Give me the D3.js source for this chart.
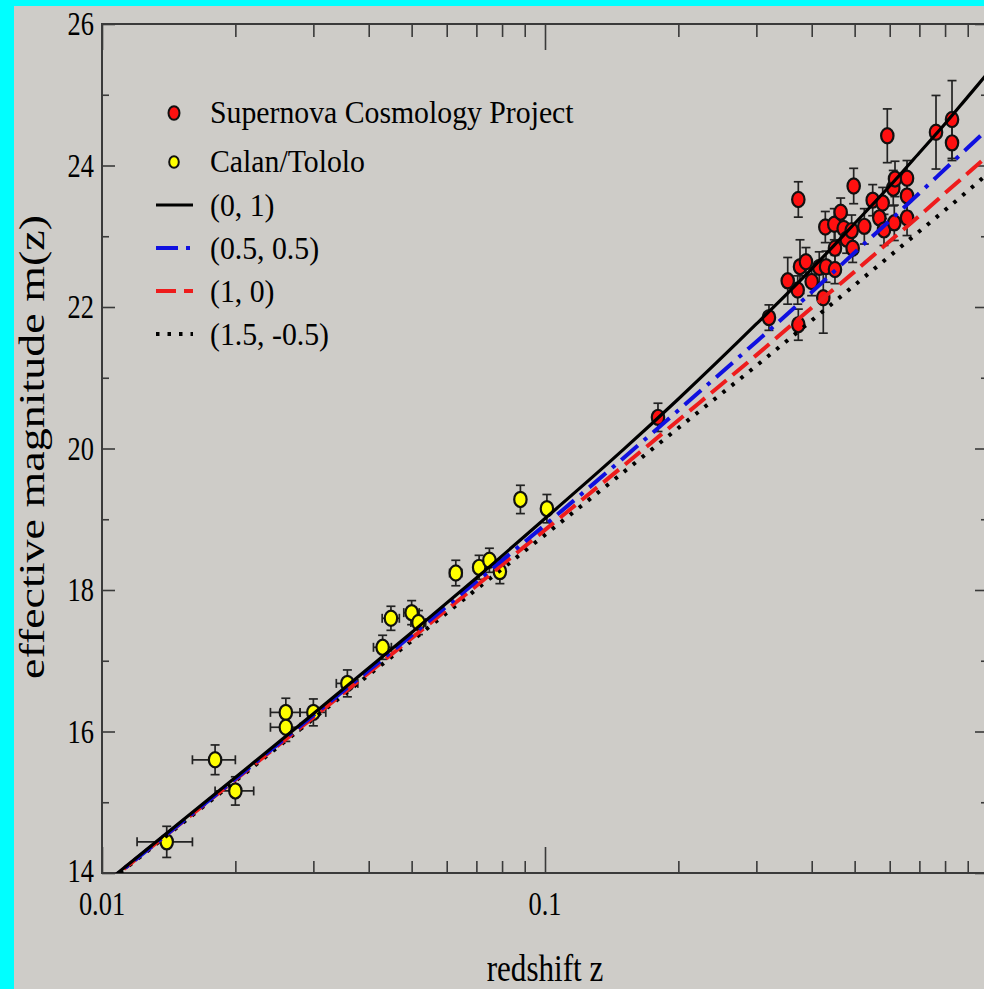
<!DOCTYPE html>
<html>
<head>
<meta charset="utf-8">
<script src="https://cdn.jsdelivr.net/npm/d3@7"></script>
<style>
  html, body { margin: 0; padding: 0; background: #00ffff; }
  svg { display: block; }
</style>
</head>
<body>
<svg id="chart" width="984" height="989"></svg>
<script>
// Calan/Tololo supernovae: redshift, effective magnitude, errors
const ctZ    = [0.0140, 0.0180, 0.0200, 0.0260, 0.0260, 0.0300, 0.0358, 0.0430, 0.0449, 0.0500, 0.0518, 0.0629, 0.0710, 0.0749, 0.0791, 0.0880, 0.1010];
const ctM    = [14.44, 15.60, 15.16, 16.27, 16.06, 16.27, 16.68, 17.19, 17.60, 17.68, 17.54, 18.24, 18.32, 18.42, 18.26, 19.28, 19.15];
const ctMErr = [0.22, 0.21, 0.20, 0.20, 0.20, 0.19, 0.19, 0.17, 0.17, 0.17, 0.17, 0.18, 0.17, 0.17, 0.17, 0.20, 0.20];
const ctZErr = [0.002, 0.002, 0.002, 0.002, 0.002, 0.002, 0.002, 0.002, 0.002, 0.002, 0.002, 0.002, 0.002, 0.002, 0.002, 0.002, 0.002];

// Supernova Cosmology Project high-redshift supernovae
const scpZ    = [0.1799, 0.3203, 0.3531, 0.3719, 0.3731, 0.3731, 0.3764, 0.3882, 0.3999, 0.4160, 0.4248, 0.4293, 0.4309, 0.4498, 0.4514, 0.4514, 0.4650, 0.4723, 0.4797, 0.4923, 0.4949, 0.4975, 0.5258, 0.5492, 0.5683, 0.5785, 0.5824, 0.5925, 0.6112, 0.6144, 0.6167, 0.6565, 0.6565, 0.6565, 0.7632, 0.8294, 0.8294];
const scpM    = [20.44, 21.85, 22.37, 22.24, 23.52, 21.75, 22.57, 22.64, 22.36, 22.56, 22.13, 23.13, 22.57, 23.17, 22.53, 22.83, 23.34, 23.11, 22.96, 23.08, 22.83, 23.71, 23.14, 23.51, 23.26, 23.47, 23.09, 24.42, 23.68, 23.19, 23.81, 23.82, 23.57, 23.26, 24.47, 24.65, 24.32];
const scpMErr = [0.20, 0.18, 0.33, 0.20, 0.25, 0.22, 0.38, 0.20, 0.20, 0.22, 0.50, 0.22, 0.22, 0.22, 0.20, 0.25, 0.20, 0.20, 0.20, 0.22, 0.20, 0.25, 0.25, 0.22, 0.22, 0.22, 0.22, 0.38, 0.25, 0.25, 0.25, 0.25, 0.22, 0.25, 0.52, 0.55, 0.25];

// Model curves m(z) for (Omega_M, Omega_Lambda)
const modelZ = [0.01, 0.02, 0.03, 0.05, 0.07, 0.1, 0.15, 0.2, 0.3, 0.4, 0.5, 0.6, 0.7, 0.8, 0.9, 1.0];
const mLambda   = [13.82, 15.35, 16.25, 17.40, 18.17, 19.01, 19.98, 20.70, 21.76, 22.54, 23.18, 23.71, 24.18, 24.59, 24.97, 25.31]; // (0, 1)
const mHalf     = [13.81, 15.33, 16.23, 17.36, 18.12, 18.92, 19.86, 20.54, 21.51, 22.21, 22.77, 23.22, 23.61, 23.95, 24.25, 24.52]; // (0.5, 0.5)
const mFlat     = [13.81, 15.32, 16.20, 17.32, 18.06, 18.85, 19.75, 20.40, 21.32, 21.99, 22.50, 22.93, 23.29, 23.61, 23.89, 24.14]; // (1, 0)
const mClosed   = [13.80, 15.30, 16.18, 17.28, 18.01, 18.78, 19.66, 20.29, 21.17, 21.81, 22.31, 22.72, 23.07, 23.37, 23.64, 23.89]; // (1.5, -0.5)

const modelNames = ["(0, 1)", "(0.5, 0.5)", "(1, 0)", "(1.5, -0.5)"];
const seriesNames = ["Supernova Cosmology Project", "Calan/Tololo"];

// Axis ticks
const xMajor = [0.01, 0.1, 1];
const xMinor = [0.02, 0.03, 0.04, 0.05, 0.06, 0.07, 0.08, 0.09, 0.2, 0.3, 0.4, 0.5, 0.6, 0.7, 0.8, 0.9];
const xLabels = ["0.01", "0.1"];
const yMajor = [14, 16, 18, 20, 22, 24, 26];
const yMinor = [15, 17, 19, 21, 23, 25];

(function draw() {
  const svg = d3.select("#chart");
  const W = 984, H = 989;
  const BG = "#ceccc8";
  const FONT = "'Liberation Serif', 'Times New Roman', serif";

  svg.append("rect").attr("x", 14).attr("y", 6).attr("width", W - 14).attr("height", H - 6).attr("fill", BG);

  const pL = 102, pR = 988, pT = 24, pB = 873;
  const x = d3.scaleLog().domain([0.01, 1]).range([pL, pR]);
  const y = d3.scaleLinear().domain([14, 26]).range([pB, pT]);

  svg.append("clipPath").attr("id", "plotClip")
    .append("rect").attr("x", pL).attr("y", pT).attr("width", pR - pL).attr("height", pB - pT);

  // text with a horizontal condensation factor sx (applied along the reading direction)
  function text(parent, px, py, str, size, anchor, sx, rotate) {
    const g = parent.append("g")
      .attr("transform", rotate
        ? `translate(${px},${py}) rotate(-90) scale(1,${sx})`
        : `translate(${px},${py}) scale(${sx},1)`);
    return g.append("text")
      .attr("font-family", FONT).attr("font-size", size)
      .attr("text-anchor", anchor).attr("fill", "#000")
      .text(str);
  }

  // axes with inward ticks
  const axisColor = "#3a3a3a";
  function styleAxis(g) {
    g.select(".domain").remove();
    g.selectAll(".tick line").attr("stroke", axisColor).attr("stroke-width", 1.6);
    g.selectAll(".tick text").remove();
  }
  svg.append("g").attr("transform", `translate(0,${pB})`)
    .call(d3.axisBottom(x).tickValues(xMinor).tickSize(-12)).call(styleAxis);
  svg.append("g").attr("transform", `translate(0,${pB})`)
    .call(d3.axisBottom(x).tickValues(xMajor).tickSize(-26)).call(styleAxis);
  svg.append("g").attr("transform", `translate(0,${pT})`)
    .call(d3.axisTop(x).tickValues(xMinor).tickSize(-13)).call(styleAxis);
  svg.append("g").attr("transform", `translate(0,${pT})`)
    .call(d3.axisTop(x).tickValues(xMajor).tickSize(-26)).call(styleAxis);
  svg.append("g").attr("transform", `translate(${pL},0)`)
    .call(d3.axisLeft(y).tickValues(yMajor).tickSize(-13)).call(styleAxis);
  svg.append("g").attr("transform", `translate(${pL},0)`)
    .call(d3.axisLeft(y).tickValues(yMinor).tickSize(-7)).call(styleAxis);
  svg.append("g").attr("transform", `translate(${pR},0)`)
    .call(d3.axisRight(y).tickValues(yMajor).tickSize(-13)).call(styleAxis);
  svg.append("g").attr("transform", `translate(${pR},0)`)
    .call(d3.axisRight(y).tickValues(yMinor).tickSize(-7)).call(styleAxis);

  svg.append("rect").attr("x", pL).attr("y", pT)
    .attr("width", pR - pL).attr("height", pB - pT)
    .attr("fill", "none").attr("stroke", axisColor).attr("stroke-width", 2);

  // tick labels
  yMajor.forEach(v => text(svg, 94, y(v) + (v === 14 ? 9 : 11), String(v), 33, "end", 0.8));
  xLabels.forEach(s => text(svg, x(+s), 915, s, 33, "middle", 0.8));

  // axis titles
  text(svg, 545, 981, "redshift z", 38, "middle", 0.82);
  text(svg, 44, 447, "effective magnitude m(z)", 46, "middle", 0.78, true);

  const plot = svg.append("g").attr("clip-path", "url(#plotClip)");

  function errorBars(g, zs, ms, mErr, zErr) {
    const cap = 4.5;
    zs.forEach((z, i) => {
      const cx = x(z), cy = y(ms[i]);
      const y1 = y(ms[i] + mErr[i]), y2 = y(ms[i] - mErr[i]);
      g.append("line").attr("x1", cx).attr("x2", cx).attr("y1", y1).attr("y2", y2);
      g.append("line").attr("x1", cx - cap).attr("x2", cx + cap).attr("y1", y1).attr("y2", y1);
      g.append("line").attr("x1", cx - cap).attr("x2", cx + cap).attr("y1", y2).attr("y2", y2);
      if (zErr) {
        const x1 = x(z - zErr[i]), x2 = x(z + zErr[i]);
        g.append("line").attr("x1", x1).attr("x2", x2).attr("y1", cy).attr("y2", cy);
        g.append("line").attr("x1", x1).attr("x2", x1).attr("y1", cy - cap).attr("y2", cy + cap);
        g.append("line").attr("x1", x2).attr("x2", x2).attr("y1", cy - cap).attr("y2", cy + cap);
      }
    });
  }

  errorBars(plot.append("g").attr("stroke", "#222").attr("stroke-width", 1.7), ctZ, ctM, ctMErr, ctZErr);
  errorBars(plot.append("g").attr("stroke", "#222").attr("stroke-width", 1.7), scpZ, scpM, scpMErr, null);

  function markers(g, zs, ms, fill) {
    g.selectAll(null).data(zs).join("ellipse")
      .attr("cx", d => x(d)).attr("cy", (d, i) => y(ms[i]))
      .attr("rx", 6.2).attr("ry", 7.6)
      .attr("fill", fill).attr("stroke", "#111").attr("stroke-width", 2.2);
  }
  markers(plot.append("g"), ctZ, ctM, "#ffff00");
  markers(plot.append("g"), scpZ, scpM, "#ff1010");

  // model curves
  const styles = [
    { data: mLambda, color: "#000000", width: 3.2, dash: null },
    { data: mHalf,   color: "#1010e0", width: 4,   dash: "22,8,4,8" },
    { data: mFlat,   color: "#ee1c1c", width: 4,   dash: "20,8" },
    { data: mClosed, color: "#000000", width: 4,   dash: "3.5,8" }
  ];
  const line = d3.line()
    .x((d, i) => x(modelZ[i]))
    .y(d => y(d))
    .curve(d3.curveMonotoneX);

  [3, 2, 1, 0].forEach(k => {
    const s = styles[k];
    plot.append("path").datum(s.data)
      .attr("d", line)
      .attr("fill", "none")
      .attr("stroke", s.color)
      .attr("stroke-width", s.width)
      .attr("stroke-dasharray", s.dash);
  });

  // legend
  const legend = svg.append("g");
  const legRows = [113, 162, 205, 248, 291, 334];
  const legText = 210;
  const legSX = 0.93;
  legend.append("ellipse").attr("cx", 174).attr("cy", legRows[0]).attr("rx", 5.5).attr("ry", 6.8)
    .attr("fill", "#ff1010").attr("stroke", "#111").attr("stroke-width", 2);
  legend.append("ellipse").attr("cx", 174).attr("cy", legRows[1]).attr("rx", 4.8).attr("ry", 5.8)
    .attr("fill", "#ffff00").attr("stroke", "#111").attr("stroke-width", 2);
  seriesNames.forEach((s, i) => text(legend, legText, legRows[i] + 10, s, 32, "start", legSX));
  styles.forEach((s, i) => {
    const yy = legRows[i + 2];
    legend.append("line")
      .attr("x1", 156).attr("x2", 193).attr("y1", yy).attr("y2", yy)
      .attr("stroke", s.color).attr("stroke-width", s.width)
      .attr("stroke-dasharray", s.dash);
    text(legend, legText, yy + 11, modelNames[i], 32, "start", legSX);
  });
})();
</script>
</body>
</html>
